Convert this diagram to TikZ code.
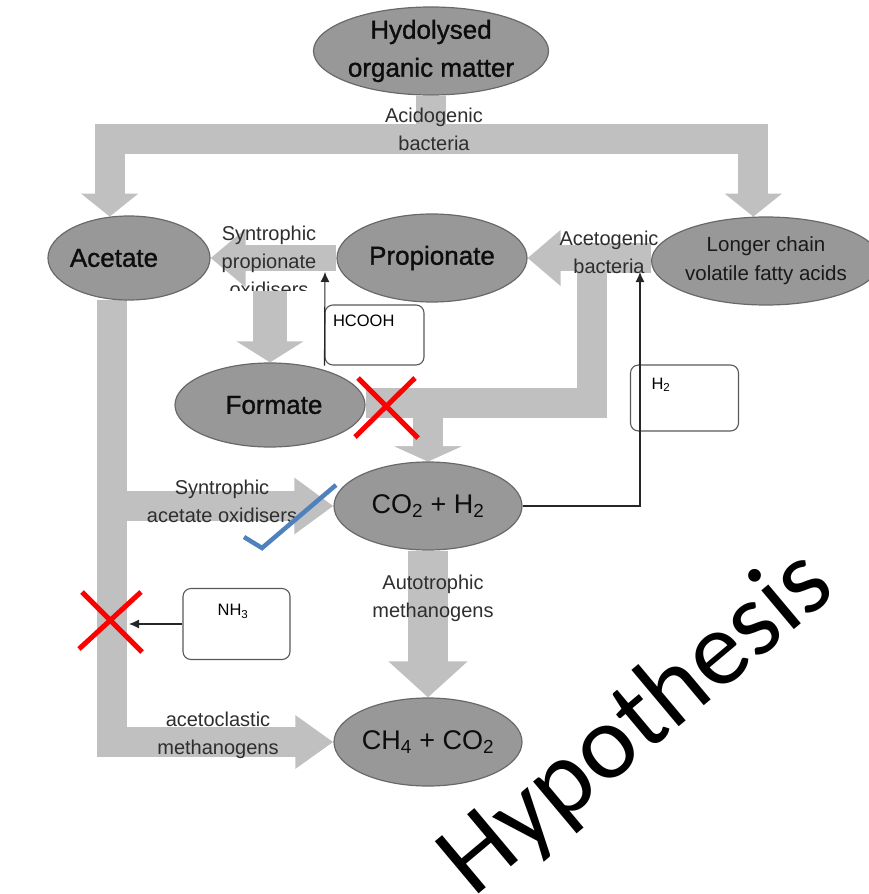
\documentclass[tikz,border=0pt]{standalone}
\usepackage{fontspec}
\setmainfont{Liberation Sans}
\newfontfamily\poolfont[FakeBold=1.2]{Liberation Sans}
\newfontfamily\hypfont{Carlito}
\usetikzlibrary{arrows.meta,shapes.geometric,backgrounds}
\definecolor{poolgray}{RGB}{152,152,152}
\definecolor{poolline}{RGB}{105,105,105}
\definecolor{flowgray}{RGB}{192,192,192}
\definecolor{tickblue}{RGB}{79,129,189}
\tikzset{
  pool/.style={ellipse,fill=poolgray,draw=poolline,line width=1.2pt,inner sep=0pt,
    align=center,text=black!95,font=\poolfont\fontsize{26}{38}\selectfont},
  flow/.style={draw=flowgray,line width=30pt,-{Triangle[width=56pt,length=23pt]}},
  tag/.style={inner sep=0pt,align=center,text=black!82,font=\fontsize{20}{28}\selectfont},
  spec/.style={draw=black!65,fill=white,rounded corners=8pt,line width=1.1pt,
    align=left,font=\fontsize{16.5}{18}\selectfont},
  feed/.style={draw=black!85,line width=1.1pt,-{Latex[length=10pt,width=9pt]}},
  nope/.style={draw=red,line width=5pt},
  tick/.style={draw=tickblue,line width=4.5pt}
}
\begin{document}
\begin{tikzpicture}[x=1pt,y=-1pt]
\useasboundingbox (0,0) rectangle (868,894);
% pools
\node[pool,minimum width=206pt,minimum height=88pt](hyd) at (431,51){Hydolysed\\organic matter};
\node[pool,minimum width=162pt,minimum height=84pt](acet) at (129,258){\hspace*{-30pt}Acetate};
\node[pool,minimum width=190pt,minimum height=88pt](prop) at (432,258){Propionate};
\node[pool,minimum width=202pt,minimum height=88pt,font=\fontsize{20.5}{29}\selectfont,text=black!90](vfa) at (766,261){Longer chain\\volatile fatty acids};
\node[pool,minimum width=190pt,minimum height=84pt](form) at (270,405){\hspace*{8pt}Formate};
\node[pool,minimum width=188pt,minimum height=88pt,font=\fontsize{27}{32}\selectfont](co2) at (428,506){CO\textsubscript{2} + H\textsubscript{2}};
\node[pool,minimum width=188pt,minimum height=88pt,font=\fontsize{27}{32}\selectfont](ch4) at (428,742){CH\textsubscript{4} + CO\textsubscript{2}};
% free ends
\coordinate (oxsplit) at (270,291);
\coordinate (bend) at (592,403);
\coordinate (hcoohend) at (325,272);
\coordinate (h2end) at (640,272);
\coordinate (nh3end) at (129,624);
% flows
\begin{scope}[on background layer]
\draw[flow] (hyd.south) -- ++(0,43) -| (acet.115);
\draw[flow] (hyd.south) -- ++(0,43) -| (vfa.106);
\draw[flow,line width=26pt,-{Triangle[width=54pt,length=33pt]}] (prop.east -| vfa.west) -- (prop.east);
\draw[flow,line width=26pt,-{Triangle[width=56pt,length=35pt]}] (prop.west) -- (acet.east);
\draw[flow,line width=34pt,-{Triangle[width=66pt,length=21pt]}] (oxsplit) -- (form.north);
\draw[flow,-{Triangle[width=66pt,length=15pt]}] (prop.east -| vfa.west) -| (bend) -| (co2.north);
\draw[flow,-{Triangle[width=66pt,length=15pt]}] (form.east |- bend) -| (co2.north);
\draw[flow,-{Triangle[width=54pt,length=39pt]}] (acet.248) |- (co2.west);
\draw[flow,-{Triangle[width=51pt,length=38pt]}] (acet.248) |- (ch4.west);
\draw[flow,line width=40pt,-{Triangle[width=77pt,length=36pt]}] (co2.south) -- (ch4.north);
\end{scope}
% labels
\node[tag](acidlab) at (434,129){Acidogenic\\bacteria};
\begin{scope}
\clip (200,200) rectangle (340,290);
\node[tag](oxlab) at (269,261){Syntrophic\\propionate\\oxidisers};
\end{scope}
\node[tag](acetolab) at (609,252){Acetogenic\\bacteria};
\node[tag](saolab) at (222,501){Syntrophic\\acetate oxidisers};
\node[tag](autolab) at (433,598){Autotrophic\\methanogens};
\node[tag](aclab) at (218,735){acetoclastic\\methanogens};
% small boxes
\node[spec,text width=83pt,inner xsep=8pt,inner ysep=4pt,text height=17pt,text depth=35pt](hcooh) at (374.5,335){HCOOH};
\node[spec,text width=66pt,inner xsep=21pt,inner ysep=4pt,text height=20pt,text depth=38pt](h2) at (684.5,398){H\textsubscript{2}};
\node[spec,text width=107pt,inner xsep=0pt,inner ysep=4pt,text height=23pt,text depth=40pt,align=center](nh3) at (236.5,624){\hspace*{-7pt}NH\textsubscript{3}};
\draw[feed] (hcooh.south west) -- (hcoohend);
\draw[feed] (co2.east) -| (h2end);
\draw[feed] (nh3.west) -- (nh3end);
% marks
\draw[nope] (358,378) -- (418,438);
\draw[nope] (415,378) -- (355,437);
\draw[nope] (82,592) -- (142,652);
\draw[nope] (141,592) -- (79,649);
\draw[tick] (244,537) -- (262,548) -- (336,485);
\node[rotate=40,inner sep=0pt,font=\hypfont\fontsize{106}{106}\selectfont](hyp) at (638,724){Hypothesis};
\end{tikzpicture}
\end{document}
